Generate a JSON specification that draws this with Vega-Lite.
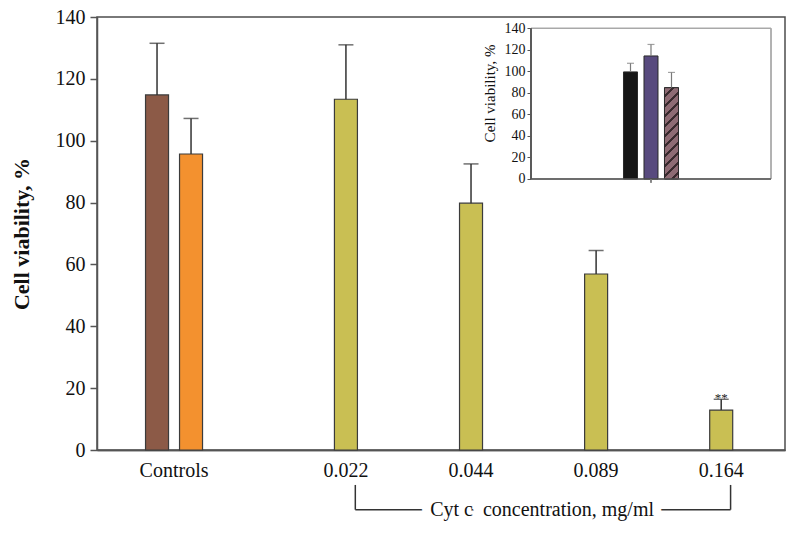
{
  "$schema": "https://vega.github.io/schema/vega-lite/v6.json",
  "width": 688,
  "height": 433,
  "autosize": "none",
  "padding": {"left": 97, "top": 17, "right": 15, "bottom": 87},
  "background": "white",
  "config": {
    "view": {"stroke": "#4d4d4d", "strokeWidth": 1.5},
    "font": "Liberation Serif",
    "axis": {"labelFont": "Liberation Serif", "titleFont": "Liberation Serif", "labelColor": "#111", "titleColor": "#111", "grid": false, "domainColor": "#555", "tickColor": "#555"}
  },
  "datasets": {
    "controls": [
      {"category": "Controls", "group": "Control 1", "value": 114.8, "upper": 131.5},
      {"category": "Controls", "group": "Control 2", "value": 95.7, "upper": 107.2}
    ],
    "conc": [
      {"conc": "0.022", "value": 113.4, "upper": 131.0},
      {"conc": "0.044", "value": 79.8, "upper": 92.5},
      {"conc": "0.089", "value": 56.9, "upper": 64.5},
      {"conc": "0.164", "value": 12.9, "upper": 16.4, "sig": "**"}
    ],
    "bracket": [
      {"from": "0.022", "to": "0.164", "label": "Cyt c\u00a0 concentration, mg/ml"}
    ],
    "inset": [
      {"panel": "Inset", "bar": "a", "value": 99.5, "upper": 107.5},
      {"panel": "Inset", "bar": "b", "value": 114.3, "upper": 125.0},
      {"panel": "Inset", "bar": "c", "value": 84.8, "upper": 99.0}
    ]
  },
  "layer": [
    {
      "layer": [
        {
          "data": {"name": "controls"},
          "encoding": {
            "x": {"field": "category", "type": "nominal", "title": null,
              "scale": {"domain": ["Controls"], "paddingInner": 0.7806, "paddingOuter": 1, "align": 0.0694, "round": false},
              "axis": {"orient": "bottom", "labelAngle": 0, "labelFontSize": 20, "ticks": false, "labelPadding": 10, "domainWidth": 1.5}},
            "xOffset": {"field": "group", "type": "nominal", "scale": {"domain": ["Control 1", "Control 2"], "paddingInner": 0, "paddingOuter": 0}}
          },
          "layer": [
            {
              "mark": {"type": "bar", "width": 23, "stroke": "#3b3b3b", "strokeWidth": 1.2},
              "encoding": {
                "y": {"field": "value", "type": "quantitative", "title": "Cell viability, %",
                  "scale": {"domain": [0, 140], "nice": false},
                  "axis": {"orient": "left", "values": [0, 20, 40, 60, 80, 100, 120, 140], "tickSize": 7, "tickWidth": 1.5, "domainWidth": 1.5, "labelFontSize": 20, "labelPadding": 5, "titleFontSize": 22, "titleFontWeight": "bold", "titlePadding": 22}},
                "fill": {"field": "group", "type": "nominal", "scale": {"domain": ["Control 1", "Control 2"], "range": ["#8c5a47", "#f3912f"]}, "legend": null}
              }
            },
            {
              "mark": {"type": "rule", "color": "#333", "strokeWidth": 1.5},
              "encoding": {
                "y": {"field": "upper", "type": "quantitative", "title": "Cell viability, %", "scale": {"domain": [0, 140], "nice": false}},
                "y2": {"field": "value"}
              }
            },
            {
              "mark": {"type": "tick", "color": "#333", "thickness": 1.5, "size": 15},
              "encoding": {
                "y": {"field": "upper", "type": "quantitative", "title": "Cell viability, %", "scale": {"domain": [0, 140], "nice": false}}
              }
            }
          ]
        },
        {
          "layer": [
            {
              "data": {"name": "conc"},
              "encoding": {
                "x": {"field": "conc", "type": "nominal", "title": null,
                  "scale": {"domain": ["0.022", "0.044", "0.089", "0.164"], "paddingInner": 0.5, "paddingOuter": 1, "align": 0.87, "round": false},
                  "axis": {"orient": "bottom", "labelAngle": 0, "labelFontSize": 20, "ticks": false, "labelPadding": 10, "domainWidth": 1.5}}
              },
              "layer": [
                {
                  "mark": {"type": "bar", "width": 23, "fill": "#c9bf53", "stroke": "#3b3b3b", "strokeWidth": 1.2},
                  "encoding": {
                    "y": {"field": "value", "type": "quantitative", "title": "Cell viability, %", "scale": {"domain": [0, 140], "nice": false}}
                  }
                },
                {
                  "mark": {"type": "rule", "color": "#333", "strokeWidth": 1.5},
                  "encoding": {
                    "y": {"field": "upper", "type": "quantitative", "title": "Cell viability, %", "scale": {"domain": [0, 140], "nice": false}},
                    "y2": {"field": "value"}
                  }
                },
                {
                  "mark": {"type": "tick", "color": "#333", "thickness": 1.5, "size": 15},
                  "encoding": {
                    "y": {"field": "upper", "type": "quantitative", "title": "Cell viability, %", "scale": {"domain": [0, 140], "nice": false}}
                  }
                },
                {
                  "transform": [{"filter": "datum.sig"}],
                  "mark": {"type": "text", "fontSize": 13, "font": "Liberation Serif", "baseline": "alphabetic", "dy": 3, "color": "#222"},
                  "encoding": {
                    "y": {"field": "upper", "type": "quantitative", "title": "Cell viability, %", "scale": {"domain": [0, 140], "nice": false}},
                    "text": {"field": "sig"}
                  }
                }
              ]
            },
            {
              "data": {"name": "bracket"},
              "layer": [
                {
                  "mark": {"type": "rule", "color": "#333", "strokeWidth": 1.5},
                  "encoding": {
                    "x": {"field": "from", "type": "nominal", "bandPosition": 0.65, "title": null},
                    "y": {"datum": -11.3, "type": "quantitative", "scale": {"domain": [0, 140], "nice": false}},
                    "y2": {"datum": -19.3}
                  }
                },
                {
                  "mark": {"type": "rule", "color": "#333", "strokeWidth": 1.5},
                  "encoding": {
                    "x": {"field": "to", "type": "nominal", "bandPosition": 0.65, "title": null},
                    "y": {"datum": -11.3, "type": "quantitative", "scale": {"domain": [0, 140], "nice": false}},
                    "y2": {"datum": -19.3}
                  }
                },
                {
                  "mark": {"type": "rule", "color": "#333", "strokeWidth": 1.5},
                  "encoding": {
                    "x": {"field": "from", "type": "nominal", "bandPosition": 0.65, "title": null},
                    "x2": {"field": "to", "bandPosition": 0.65},
                    "y": {"datum": -19.3, "type": "quantitative", "scale": {"domain": [0, 140], "nice": false}}
                  }
                },
                {
                  "mark": {"type": "text", "fontSize": 20, "font": "Liberation Serif", "fill": "white", "stroke": "white", "strokeWidth": 18, "strokeJoin": "round", "baseline": "middle", "dx": -54},
                  "encoding": {
                    "x": {"datum": "0.089", "type": "nominal"},
                    "y": {"datum": -19.3, "type": "quantitative", "scale": {"domain": [0, 140], "nice": false}},
                    "text": {"field": "label"}
                  }
                },
                {
                  "mark": {"type": "text", "fontSize": 20, "font": "Liberation Serif", "fill": "#111", "baseline": "middle", "dx": -54},
                  "encoding": {
                    "x": {"datum": "0.089", "type": "nominal"},
                    "y": {"datum": -19.3, "type": "quantitative", "scale": {"domain": [0, 140], "nice": false}},
                    "text": {"field": "label"}
                  }
                }
              ]
            }
          ]
        }
      ],
      "resolve": {"scale": {"x": "independent"}, "axis": {"x": "independent"}}
    },
    {
      "data": {"name": "inset"},
      "encoding": {
        "x": {"field": "panel", "type": "nominal", "title": null, "axis": null,
          "scale": {"domain": ["Inset"], "paddingInner": 0, "paddingOuter": 0.9333, "align": 0.96875, "round": false}},
        "xOffset": {"field": "bar", "type": "nominal", "scale": {"domain": ["s0", "s1", "s2", "s3", "a", "b", "c", "s7", "s8", "s9", "s10"], "paddingInner": 0, "paddingOuter": 0.354, "align": 0.5, "round": false}}
      },
      "layer": [
        {
          "mark": {"type": "bar", "fill": "transparent", "stroke": "#a8a8a8", "strokeWidth": 1},
          "encoding": {
            "xOffset": null,
            "y": {"datum": 140, "type": "quantitative", "title": "Cell viability, %",
              "scale": {"domain": [-251.8, 150.5], "nice": false, "zero": false},
              "axis": {"orient": "left", "offset": -434, "values": [0, 20, 40, 60, 80, 100, 120, 140], "domain": false, "tickSize": 4, "labelFontSize": 14, "labelPadding": 2, "titleFontSize": 15, "titleFontWeight": "normal", "titlePadding": 7, "titleY": 76}},
            "y2": {"datum": 0}
          }
        },
        {
          "mark": {"type": "bar", "width": 14, "stroke": "#2a2a2a", "strokeWidth": 1},
          "encoding": {
            "y": {"field": "value", "type": "quantitative", "title": "Cell viability, %", "scale": {"domain": [-251.8, 150.5], "nice": false, "zero": false}},
            "y2": {"datum": 0},
            "fill": {"field": "bar", "type": "nominal", "scale": {"domain": ["a", "b", "c"], "range": ["#161616", "#584a7e", "#8e6b74"]}, "legend": null}
          }
        },
        {
          "transform": [{"filter": "datum.bar == 'c'"}],
          "mark": {"type": "bar", "width": 14, "stroke": "#2a2a2a", "strokeWidth": 1,
            "fill": {"gradient": "linear", "x1": 0, "y1": 0, "x2": 0.173, "y2": 1.127, "stops": [
              {"offset": 0, "color": "#8e6b74"}, {"offset": 0.068, "color": "#8e6b74"}, {"offset": 0.068, "color": "#3a2a2e"}, {"offset": 0.095, "color": "#3a2a2e"},
              {"offset": 0.095, "color": "#8e6b74"}, {"offset": 0.163, "color": "#8e6b74"}, {"offset": 0.163, "color": "#3a2a2e"}, {"offset": 0.19, "color": "#3a2a2e"},
              {"offset": 0.19, "color": "#8e6b74"}, {"offset": 0.258, "color": "#8e6b74"}, {"offset": 0.258, "color": "#3a2a2e"}, {"offset": 0.285, "color": "#3a2a2e"},
              {"offset": 0.285, "color": "#8e6b74"}, {"offset": 0.353, "color": "#8e6b74"}, {"offset": 0.353, "color": "#3a2a2e"}, {"offset": 0.38, "color": "#3a2a2e"},
              {"offset": 0.38, "color": "#8e6b74"}, {"offset": 0.448, "color": "#8e6b74"}, {"offset": 0.448, "color": "#3a2a2e"}, {"offset": 0.475, "color": "#3a2a2e"},
              {"offset": 0.475, "color": "#8e6b74"}, {"offset": 0.543, "color": "#8e6b74"}, {"offset": 0.543, "color": "#3a2a2e"}, {"offset": 0.57, "color": "#3a2a2e"},
              {"offset": 0.57, "color": "#8e6b74"}, {"offset": 0.638, "color": "#8e6b74"}, {"offset": 0.638, "color": "#3a2a2e"}, {"offset": 0.665, "color": "#3a2a2e"},
              {"offset": 0.665, "color": "#8e6b74"}, {"offset": 0.733, "color": "#8e6b74"}, {"offset": 0.733, "color": "#3a2a2e"}, {"offset": 0.76, "color": "#3a2a2e"},
              {"offset": 0.76, "color": "#8e6b74"}, {"offset": 0.828, "color": "#8e6b74"}, {"offset": 0.828, "color": "#3a2a2e"}, {"offset": 0.855, "color": "#3a2a2e"},
              {"offset": 0.855, "color": "#8e6b74"}, {"offset": 0.923, "color": "#8e6b74"}, {"offset": 0.923, "color": "#3a2a2e"}, {"offset": 0.95, "color": "#3a2a2e"},
              {"offset": 0.95, "color": "#8e6b74"}, {"offset": 1, "color": "#8e6b74"}
            ]}},
          "encoding": {
            "y": {"field": "value", "type": "quantitative", "title": "Cell viability, %", "scale": {"domain": [-251.8, 150.5], "nice": false, "zero": false}},
            "y2": {"datum": 0}
          }
        },
        {
          "mark": {"type": "rule", "color": "#7a7a7a", "strokeWidth": 1.2},
          "encoding": {
            "y": {"field": "upper", "type": "quantitative", "title": "Cell viability, %", "scale": {"domain": [-251.8, 150.5], "nice": false, "zero": false}},
            "y2": {"field": "value"}
          }
        },
        {
          "mark": {"type": "tick", "color": "#7a7a7a", "thickness": 1.2, "size": 7},
          "encoding": {
            "y": {"field": "upper", "type": "quantitative", "title": "Cell viability, %", "scale": {"domain": [-251.8, 150.5], "nice": false, "zero": false}}
          }
        },
        {
          "mark": {"type": "rule", "color": "#555", "strokeWidth": 1.2},
          "encoding": {
            "xOffset": null,
            "x": {"field": "panel", "type": "nominal", "bandPosition": 0, "title": null},
            "y": {"datum": 0, "type": "quantitative", "title": "Cell viability, %", "scale": {"domain": [-251.8, 150.5], "nice": false, "zero": false}},
            "y2": {"datum": 140}
          }
        },
        {
          "mark": {"type": "tick", "color": "#555", "thickness": 1.2, "size": 240},
          "encoding": {
            "xOffset": null,
            "y": {"datum": 0, "type": "quantitative", "title": "Cell viability, %", "scale": {"domain": [-251.8, 150.5], "nice": false, "zero": false}}
          }
        },
        {
          "mark": {"type": "rule", "color": "#777", "strokeWidth": 1},
          "encoding": {
            "xOffset": null,
            "y": {"datum": 0, "type": "quantitative", "title": "Cell viability, %", "scale": {"domain": [-251.8, 150.5], "nice": false, "zero": false}},
            "y2": {"datum": -3.5}
          }
        }
      ]
    }
  ],
  "resolve": {
    "scale": {"x": "independent", "y": "independent", "xOffset": "independent", "fill": "independent"},
    "axis": {"x": "independent", "y": "independent"}
  }
}
